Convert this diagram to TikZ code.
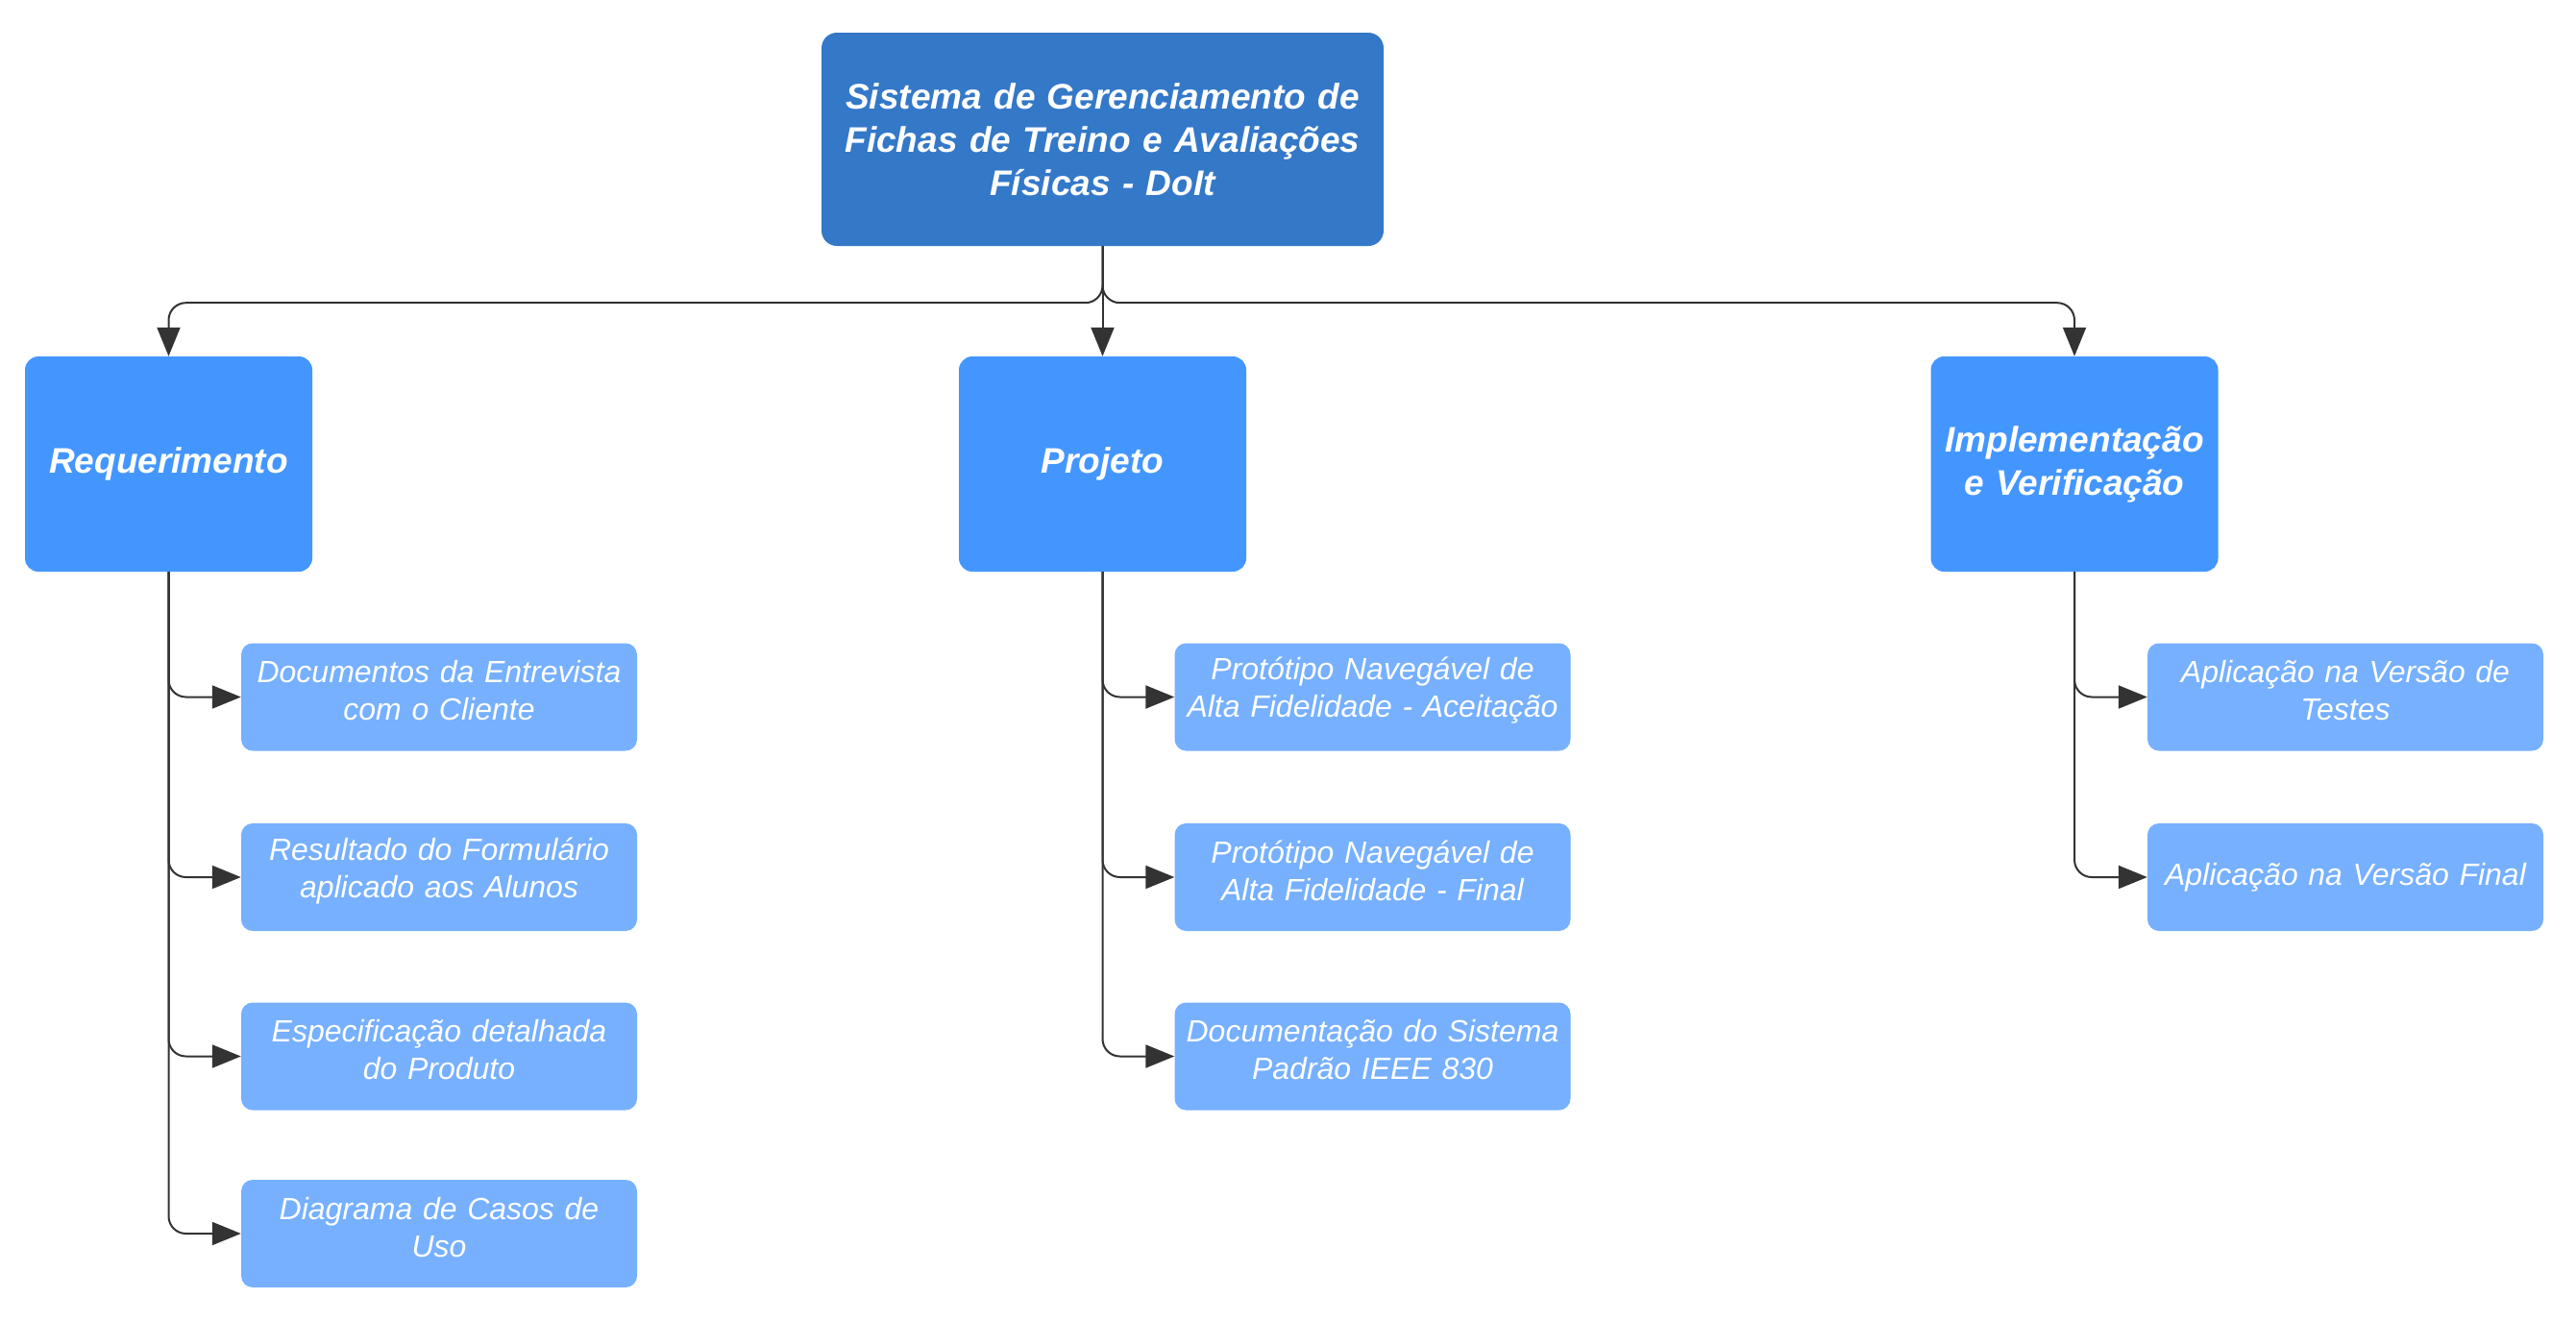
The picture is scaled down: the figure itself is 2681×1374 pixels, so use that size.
\documentclass[tikz,border=0pt]{standalone}
\usepackage{fontspec}
\setmainfont{Liberation Sans}
\usetikzlibrary{arrows.meta}
\definecolor{topc}{RGB}{52,120,200}
\definecolor{phasec}{RGB}{68,150,255}
\definecolor{itemc}{RGB}{118,176,255}
\definecolor{linec}{RGB}{51,51,51}
\tikzset{
  topbox/.style={fill=topc, rounded corners=16pt, minimum width=585pt, minimum height=222pt, text width=570pt, inner sep=4pt, align=center, text=white, font=\fontsize{37}{45}\selectfont\bfseries\itshape},
  phasebox/.style={fill=phasec, rounded corners=14pt, minimum width=299pt, minimum height=224pt, text width=290pt, inner sep=4pt, align=center, text=white, font=\fontsize{37}{45}\selectfont\bfseries\itshape},
  itembox/.style={fill=itemc, rounded corners=12pt, minimum width=412pt, minimum height=112pt, text width=402pt, inner sep=4pt, align=center, text=white, font=\fontsize{32}{39}\selectfont\itshape, execute at end node={\par\vspace{#1}}},
  itembox/.default=13pt,
  conn/.style={draw=linec, line width=2pt, rounded corners=18pt, -{Triangle[length=30pt,width=24pt]}}
}
\begin{document}
\begin{tikzpicture}[x=1pt,y=1pt]
\useasboundingbox (0,0) rectangle (2681,-1374);
\node[topbox] (top) at (1147.5,-145) {Sistema de Gerenciamento de\\Fichas de Treino e Avaliações\\Físicas - DoIt};
\node[phasebox] (req) at (175.5,-483) {Requerimento};
\node[phasebox] (proj) at (1147.5,-483) {Projeto};
\node[phasebox] (impl) at (2159,-483) {Implementação\\e Verificação};

\node[itembox] (r1) at (457,-725.5) {Documentos da Entrevista\\com o Cliente};
\node[itembox] (r2) at (457,-913) {Resultado do Formulário\\aplicado aos Alunos};
\node[itembox] (r3) at (457,-1099.5) {Especificação detalhada\\do Produto};
\node[itembox] (r4) at (457,-1284) {Diagrama de Casos de\\Uso};

\node[itembox] (p1) at (1428.5,-725.5) {Protótipo Navegável de\\Alta Fidelidade - Aceitação};
\node[itembox] (p2) at (1428.5,-913) {Protótipo Navegável de\\Alta Fidelidade - Final};
\node[itembox] (p3) at (1428.5,-1099.5) {Documentação do Sistema\\Padrão IEEE 830};

\node[itembox] (i1) at (2441,-725.5) {Aplicação na Versão de\\Testes};
\node[itembox=0pt] (i2) at (2441,-913) {Aplicação na Versão Final};

\draw[conn] (top.south) -- ++(0,-59) -| (req.north);
\draw[conn] (top.south) -- (proj.north);
\draw[conn] (top.south) -- ++(0,-59) -| (impl.north);

\foreach \c in {r1,r2,r3,r4}{\draw[conn] (req.south) |- (\c.west);}
\foreach \c in {p1,p2,p3}{\draw[conn] (proj.south) |- (\c.west);}
\foreach \c in {i1,i2}{\draw[conn] (impl.south) |- (\c.west);}
\end{tikzpicture}
\end{document}
